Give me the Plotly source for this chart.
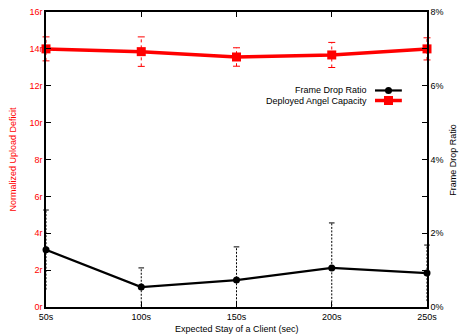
import plotly.graph_objects as go

# ---- data ----
stay = [50, 100, 150, 200, 250]
stay_labels = ["50s", "100s", "150s", "200s", "250s"]
capacity = [14.0, 13.85, 13.56, 13.67, 14.0]          # normalized upload deficit (r)
capacity_err = [0.65, 0.8, 0.5, 0.68, 0.6]
drop_ratio = [1.55, 0.54, 0.73, 1.06, 0.92]           # frame drop ratio (%)
drop_err = [1.08, 0.52, 0.9, 1.22, 0.76]
left_ticks = [0, 2, 4, 6, 8, 10, 12, 14, 16]
left_labels = [f"{v}r" for v in left_ticks]
right_ticks = [0, 2, 4, 6, 8]
right_labels = [f"{v}%" for v in right_ticks]

RED = "#ff0000"
FONT = "Liberation Sans, Arial, sans-serif"


def err_segments(xs, ys, es):
    vx, vy, lo, hi = [], [], [], []
    for x, y, e in zip(xs, ys, es):
        vx += [x, x, None]
        vy += [y - e, y + e, None]
        lo.append(y - e)
        hi.append(y + e)
    return vx, vy, lo, hi


fig = go.Figure()

# red error bars (dotted)
vx, vy, lo, hi = err_segments(stay, capacity, capacity_err)
fig.add_trace(go.Scatter(x=vx, y=vy, mode="lines", line=dict(color=RED, width=1, dash="dot"),
                         showlegend=False, hoverinfo="skip", yaxis="y"))
fig.add_trace(go.Scatter(x=stay + stay, y=lo + hi, mode="markers",
                         marker=dict(symbol="line-ew", size=5, line=dict(color=RED, width=1)),
                         showlegend=False, hoverinfo="skip", yaxis="y", cliponaxis=False))

# black error bars (dashed)
vx, vy, lo, hi = err_segments(stay, drop_ratio, drop_err)
fig.add_trace(go.Scatter(x=vx, y=vy, mode="lines", line=dict(color="black", width=1, dash="2px,1.5px"),
                         showlegend=False, hoverinfo="skip", yaxis="y2"))
fig.add_trace(go.Scatter(x=stay, y=hi, mode="markers",
                         marker=dict(symbol="line-ew", size=4, line=dict(color="black", width=1)),
                         showlegend=False, hoverinfo="skip", yaxis="y2", cliponaxis=False))

# main series
fig.add_trace(go.Scatter(x=stay, y=capacity, mode="lines+markers", name="Deployed Angel Capacity",
                         line=dict(color=RED, width=3.5),
                         marker=dict(symbol="square", size=9, color=RED),
                         yaxis="y", cliponaxis=False, showlegend=False))
fig.add_trace(go.Scatter(x=stay, y=drop_ratio, mode="lines+markers", name="Frame Drop Ratio",
                         line=dict(color="black", width=2.2),
                         marker=dict(symbol="circle", size=7, color="black"),
                         yaxis="y2", cliponaxis=False, showlegend=False))

# legend samples on an overlay axis (paper-like 0..1)
fig.add_trace(go.Scatter(x=[0.8635, 0.934], y=[0.734, 0.734], mode="lines", line=dict(color="black", width=2.2),
                         xaxis="x3", yaxis="y3", showlegend=False, hoverinfo="skip"))
fig.add_trace(go.Scatter(x=[0.899], y=[0.734], mode="markers", marker=dict(symbol="circle", size=7, color="black"),
                         xaxis="x3", yaxis="y3", showlegend=False, hoverinfo="skip"))
fig.add_trace(go.Scatter(x=[0.8635, 0.934], y=[0.700, 0.700], mode="lines", line=dict(color=RED, width=3.5),
                         xaxis="x3", yaxis="y3", showlegend=False, hoverinfo="skip"))
fig.add_trace(go.Scatter(x=[0.899], y=[0.700], mode="markers", marker=dict(symbol="square", size=9, color=RED),
                         xaxis="x3", yaxis="y3", showlegend=False, hoverinfo="skip"))

fig.update_layout(
    width=459, height=335,
    margin=dict(l=46, r=32, t=12, b=28, autoexpand=False),
    paper_bgcolor="white", plot_bgcolor="white",
    font=dict(family=FONT, size=9, color="black"),
    showlegend=False,
    xaxis=dict(range=[50, 250], tickvals=stay, ticktext=stay_labels,
               showline=True, linecolor="black", linewidth=1.5, mirror="ticks",
               ticks="inside", ticklen=5, tickcolor="black", showgrid=False, zeroline=False,
               automargin=False, tickfont=dict(size=9)),
    yaxis=dict(range=[0, 16], tickvals=left_ticks, ticktext=left_labels,
               showline=True, linecolor="black", linewidth=1.5,
               ticks="inside", ticklen=5, tickcolor="black", showgrid=False, zeroline=False,
               automargin=False, tickfont=dict(color=RED, size=9)),
    yaxis2=dict(range=[0, 8], tickvals=right_ticks, ticktext=right_labels, overlaying="y", side="right",
                showline=True, linecolor="black", linewidth=1.5,
                ticks="inside", ticklen=5, tickcolor="black", showgrid=False, zeroline=False,
                minor=dict(dtick=1, ticks="inside", ticklen=5, tickcolor="black"),
                automargin=False, tickfont=dict(size=9)),
    xaxis3=dict(range=[0, 1], overlaying="x", visible=False, automargin=False),
    yaxis3=dict(range=[0, 1], overlaying="y", visible=False, automargin=False),
    annotations=[
        dict(x=0.848, y=0.734, xref="paper", yref="paper", text="Frame Drop Ratio", showarrow=False,
             xanchor="right", yanchor="middle", font=dict(size=9)),
        dict(x=0.848, y=0.700, xref="paper", yref="paper", text="Deployed Angel Capacity", showarrow=False,
             xanchor="right", yanchor="middle", font=dict(size=9)),
        dict(x=-0.0892, y=0.5, xref="paper", yref="paper", text="Normalized Upload Deficit", showarrow=False,
             textangle=-90, xanchor="center", yanchor="middle", font=dict(size=9, color=RED)),
        dict(x=1.066, y=0.5, xref="paper", yref="paper", text="Frame Drop Ratio", showarrow=False,
             textangle=-90, xanchor="center", yanchor="middle", font=dict(size=9)),
        dict(x=0.5, y=-0.074, xref="paper", yref="paper", text="Expected Stay of a Client (sec)", showarrow=False,
             xanchor="center", yanchor="middle", font=dict(size=9)),
    ],
)

fig.write_html("out.html", config={"displayModeBar": False},
               post_script="document.body.style.margin='0';document.body.style.overflow='hidden';")
